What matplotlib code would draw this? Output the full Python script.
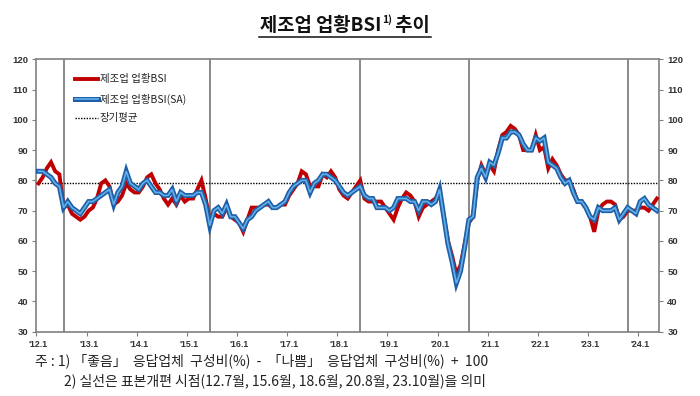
import matplotlib
matplotlib.use('Agg')
import matplotlib.pyplot as plt
from matplotlib.lines import Line2D

plt.rcParams['font.family'] = ['Noto Sans CJK KR', 'DejaVu Sans']

# ---------------- data ----------------
start_year = 2012
x_labels = ["'12.1", "'13.1", "'14.1", "'15.1", "'16.1", "'17.1", "'18.1",
            "'19.1", "'20.1", "'21.1", "'22.1", "'23.1", "'24.1"]

# 제조업 업황BSI (original), monthly 2012.1 - 2024.5
bsi = [
    79, 81, 84, 86, 83, 82, 71, 72, 69, 68, 67, 68,          # 2012
    70, 71, 74, 79, 80, 78, 72, 73, 75, 79, 77, 76,          # 2013
    76, 78, 81, 82, 79, 77, 74, 72, 74, 72, 75, 73,          # 2014
    74, 74, 77, 80, 74, 67, 69, 68, 68, 71, 68, 67,          # 2015
    66, 63, 67, 71, 71, 71, 72, 72, 71, 71, 72, 72,          # 2016
    75, 77, 79, 83, 82, 78, 78, 78, 82, 81, 83, 81,          # 2017
    77, 75, 74, 76, 78, 80, 74, 73, 73, 73, 73, 71,          # 2018
    69, 67, 71, 74, 76, 75, 73, 68, 71, 72, 73, 74,          # 2019
    76, 68, 60, 55, 49, 52, 59, 66, 68, 80, 85, 82,          # 2020
    85, 83, 90, 95, 96, 98, 97, 95, 90, 90, 90, 95,          # 2021
    90, 91, 84, 87, 85, 82, 80, 80, 77, 73, 73, 71,          # 2022
    68, 63, 70, 72, 73, 73, 72, 67, 68, 70, 70, 70,          # 2023
    71, 71, 70, 72, 74,                                      # 2024
]

# 제조업 업황BSI (seasonally adjusted)
bsi_sa = [
    83, 83, 82, 81, 79, 78, 71, 73, 71, 70, 69, 71,          # 2012
    73, 73, 74, 75, 76, 77, 72, 76, 78, 83, 79, 78,          # 2013
    77, 79, 80, 78, 76, 76, 75, 75, 77, 73, 76, 75,          # 2014
    75, 75, 76, 76, 72, 65, 70, 71, 69, 72, 68, 68,          # 2015
    66, 64, 67, 68, 70, 71, 72, 73, 71, 71, 72, 73,          # 2016
    76, 78, 79, 80, 80, 76, 79, 80, 82, 82, 81, 80,          # 2017
    78, 76, 75, 76, 77, 78, 75, 74, 74, 71, 71, 71,          # 2018
    70, 71, 74, 74, 74, 73, 73, 70, 73, 73, 72, 73,          # 2019
    77, 68, 59, 53, 46, 50, 58, 67, 68, 81, 84, 81,          # 2020
    86, 85, 89, 94, 94, 96, 96, 95, 92, 90, 90, 94,          # 2021
    93, 94, 86, 85, 84, 81, 79, 80, 76, 73, 73, 71,          # 2022
    68, 67, 71, 70, 70, 70, 71, 67, 69, 71, 70, 69,          # 2023
    73, 74, 72, 71, 70,                                      # 2024
]

long_term_avg = 79
reform_points = ['2012.7', '2015.6', '2018.6', '2020.8', '2023.10']

legend_labels = ['제조업 업황BSI', '제조업 업황BSI(SA)', '장기평균']
title_main = '제조업 업황BSI'
title_sup = '1)'
title_tail = ' 추이'
note1 = '주 : 1) 「좋음」  응답업체  구성비(%)  -  「나쁨」  응답업체  구성비(%)  +  100'
note2 = '2) 실선은 표본개편 시점(12.7월, 15.6월, 18.6월, 20.8월, 23.10월)을 의미'

# ---------------- figure ----------------
W, H = 700, 396
fig = plt.figure(figsize=(W / 100, H / 100), dpi=100)
L, R, T, B = 36.4, 659.0, 59.3, 331.7
ax = fig.add_axes([L / W, 1 - B / H, (R - L) / W, (B - T) / H])

n = len(bsi)
xs = list(range(n))

RED = '#C00000'
BLUE_DARK = '#1F5FA8'
BLUE_LIGHT = '#62B0E8'
GRAY = '#808080'

def month_index(s):
    y, m = s.split('.')
    return (int(y) - start_year) * 12 + int(m) - 1

for p in reform_points:
    ax.axvline(month_index(p), color=GRAY, lw=1.3, zorder=1)

ax.axhline(long_term_avg, color='black', lw=1.0, ls=(0, (1, 1)), zorder=2)

ax.plot(xs, bsi, color=RED, lw=2.8, zorder=3, solid_joinstyle='miter')
ax.plot(xs, bsi_sa, color=BLUE_DARK, lw=3.6, zorder=4, solid_joinstyle='miter')
ax.plot(xs, bsi_sa, color=BLUE_LIGHT, lw=1.2, zorder=5, solid_joinstyle='miter')

ax.set_xlim(-0.5, n - 0.5)
ax.set_ylim(30, 120)
ax.set_yticks(range(30, 121, 10))

year_pos = [12 * k for k in range(len(x_labels))]
ax.set_xticks([p - 0.5 for p in year_pos])
ax.set_xticklabels([])
ax.set_xticks(year_pos, minor=True)
ax.set_xticklabels(x_labels, minor=True)
ax.tick_params(axis='x', which='major', direction='out', length=3, width=0.8, color=GRAY)
ax.tick_params(axis='x', which='minor', length=0, pad=6, labelsize=6.3, labelcolor='#333333')
ax.tick_params(axis='y', direction='out', length=3, width=0.8, color=GRAY,
               left=True, right=True, labelleft=True, labelright=True,
               labelsize=6.8, labelcolor='#333333', pad=3)
for lab in ax.get_xticklabels(minor=True) + ax.get_yticklabels():
    lab.set_fontfamily(['Liberation Sans', 'DejaVu Sans'])
    lab.set_fontweight('bold')
for lab in ax.yaxis.get_ticklabels(which='both'):
    lab.set_fontfamily(['Liberation Sans', 'DejaVu Sans'])

for s in ax.spines.values():
    s.set_color(GRAY)
    s.set_linewidth(1.2)

# ---------------- legend (manual) ----------------
def ax_xy(px, py):
    return (px - L) / (R - L), (B - py) / (B - T)

rows_y = [79.3, 99.3, 118.3]
hx0, hx1, tx = 75, 98, 100
for k, ry in enumerate(rows_y):
    a0 = ax_xy(hx0, ry)
    a1 = ax_xy(hx1, ry)
    if k == 0:
        ax.add_line(Line2D([a0[0], a1[0]], [a0[1], a1[1]], transform=ax.transAxes,
                           color=RED, lw=2.8, zorder=6))
    elif k == 1:
        ax.add_line(Line2D([a0[0], a1[0]], [a0[1], a1[1]], transform=ax.transAxes,
                           color=BLUE_DARK, lw=3.6, zorder=6))
        ax.add_line(Line2D([a0[0], a1[0]], [a0[1], a1[1]], transform=ax.transAxes,
                           color=BLUE_LIGHT, lw=1.2, zorder=7))
    else:
        ax.add_line(Line2D([a0[0], a1[0]], [a0[1], a1[1]], transform=ax.transAxes,
                           color='black', lw=1.0, ls=(0, (1, 1)), zorder=6))
    t = ax_xy(tx, ry)
    ax.text(t[0], t[1], legend_labels[k], transform=ax.transAxes, fontsize=7.5,
            va='center', ha='left', color='#222222', zorder=8)

# ---------------- title ----------------
renderer = fig.canvas.get_renderer()
title_fs = 13.5
tp1 = fig.text(0, 0, title_main, fontsize=title_fs, fontweight='bold')
tp2 = fig.text(0, 0, title_sup, fontsize=7.5, fontweight='bold')
tp3 = fig.text(0, 0, title_tail, fontsize=title_fs, fontweight='bold')
w1 = tp1.get_window_extent(renderer).width
w2 = tp2.get_window_extent(renderer).width
w3 = tp3.get_window_extent(renderer).width
total = w1 + w2 + w3
x0 = 345 - total / 2
base_y = 31.0
tp1.set_position((x0 / W, 1 - base_y / H))
tp2.set_position(((x0 + w1 + 0.5) / W, 1 - (base_y - 8) / H))
tp3.set_position(((x0 + w1 + w2) / W, 1 - base_y / H))
for t in (tp1, tp2, tp3):
    t.set_va('baseline')
    t.set_color('#111111')
uy = 1 - 36.5 / H
fig.add_artist(Line2D([(x0 - 1) / W, (x0 + total + 1) / W], [uy, uy],
                      transform=fig.transFigure, color='#111111', lw=1.1))

# ---------------- notes ----------------
fig.text(35 / W, 1 - 361 / H, note1, fontsize=10.0, va='center', ha='left', color='#222222')
fig.text(64 / W, 1 - 381 / H, note2, fontsize=10.0, va='center', ha='left', color='#222222')

fig.savefig('out.png', dpi=100)
